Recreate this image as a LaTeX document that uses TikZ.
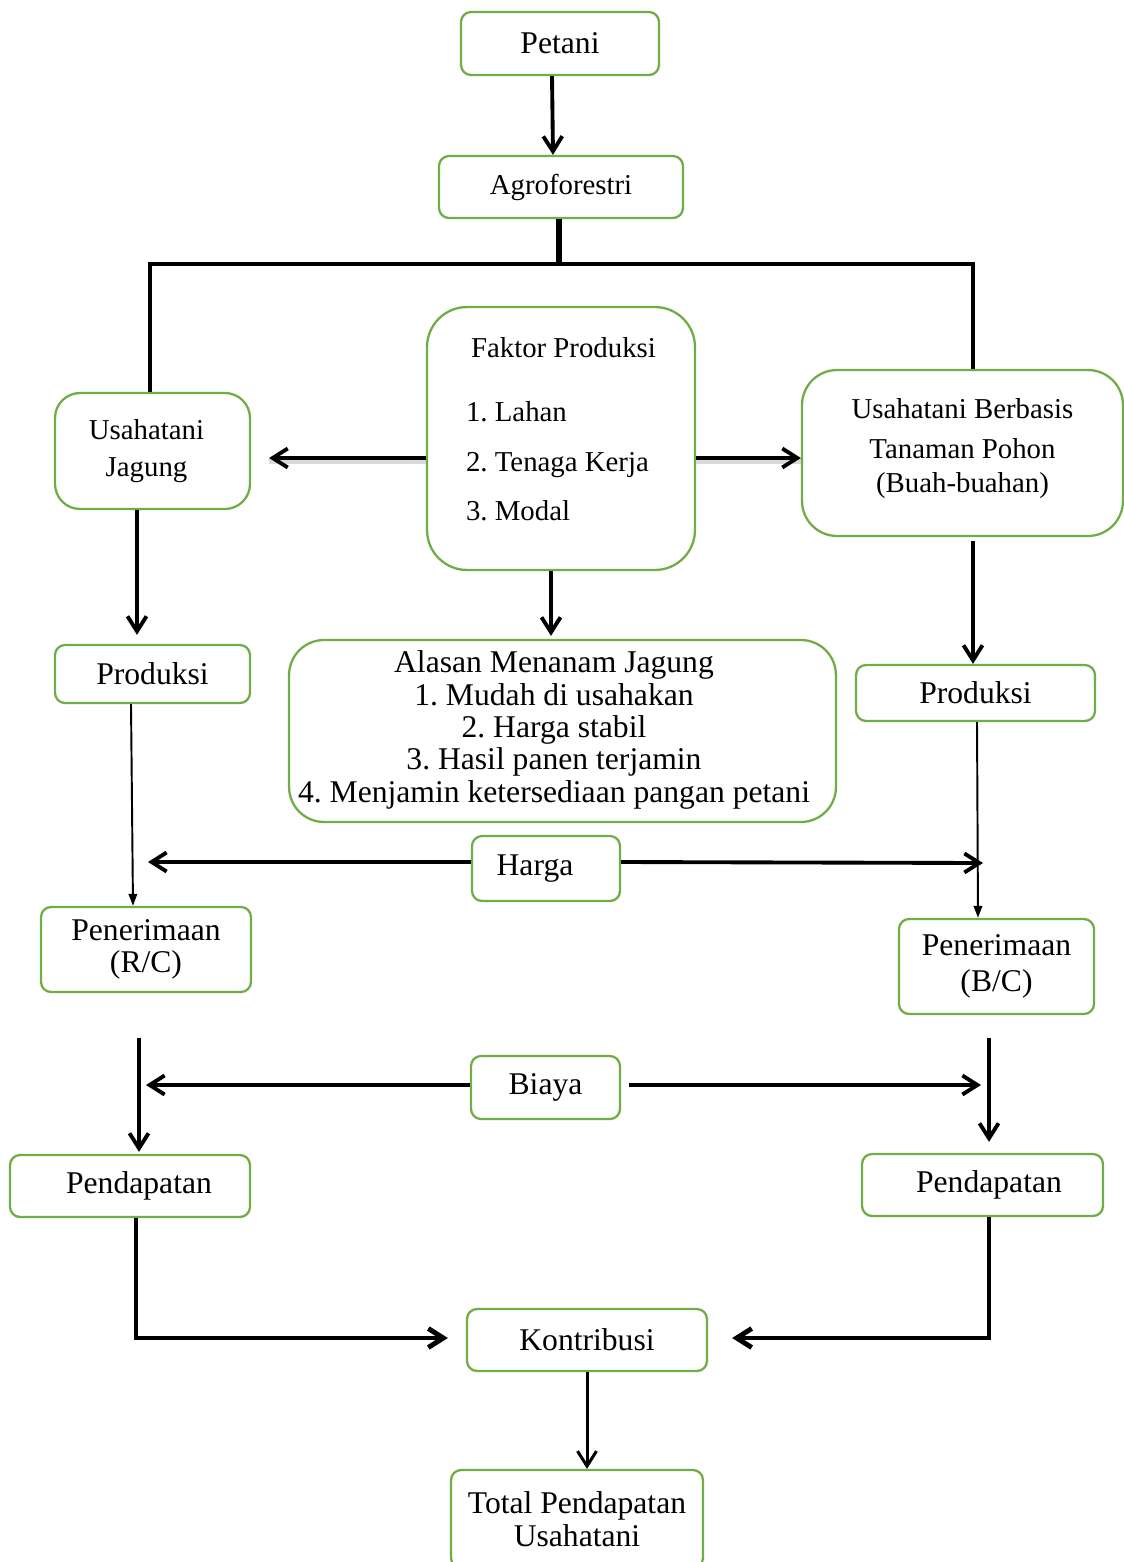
\documentclass[tikz,border=0pt]{standalone}
\usepackage{fontspec}
\setmainfont{Liberation Serif}
\usetikzlibrary{arrows.meta}
\frenchspacing

\definecolor{boxgreen}{HTML}{70AD47}
\newcommand{\smallfs}{\fontsize{16.4}{19.3}\selectfont}
\newcommand{\largefs}{\fontsize{18}{18.4}\selectfont}

\tikzset{
  box/.style={draw=boxgreen, line width=1.3pt, rounded corners=0.2cm, align=center, inner sep=0pt, font=\largefs},
  arr/.style={line width=2.2pt, -{Straight Barb[length=0.3cm, width=0.38cm]}},
  thinarr/.style={line width=1.1pt, -{Triangle[length=0.24cm, width=0.17cm]}},
  bar/.style={line width=3.2pt},
  shadowed/.style={preaction={draw=black!15, line width=3.6pt, -, transform canvas={yshift=-0.06cm}}},
}

\begin{document}
\begin{tikzpicture}[x=0.02cm, y=-0.02cm]
  \useasboundingbox (0,0) rectangle (1124,1562);

  % boxes
  \node [box, minimum width=3.96cm, minimum height=1.26cm] (petani) at (560,43.5) {Petani};
  \node [box, font=\smallfs, minimum width=4.88cm, minimum height=1.24cm] (agro) at (561,187) {Agroforestri};
  \node [box, font=\smallfs, align=left, rounded corners=0.8cm, minimum width=5.36cm, minimum height=5.26cm,
    text height=3.5cm, text depth=0.2cm] (faktor) at (561,438.5)
    {\hspace*{0.1cm}Faktor Produksi\\[17pt]1. Lahan\\[9pt]2. Tenaga Kerja\\[9pt]3. Modal};
  \node [box, font=\smallfs, rounded corners=0.5cm, minimum width=3.9cm, minimum height=2.32cm] (jagung) at (152.5,451)
    {Usahatani\hspace*{0.24cm}\\[2.2pt]Jagung\hspace*{0.24cm}};
  \node [box, font=\smallfs, rounded corners=0.7cm, minimum width=6.42cm, minimum height=3.32cm,
    text height=1.76cm, text depth=0.2cm] (berbasis) at (962.5,453)
    {Usahatani Berbasis\\[3.4pt]Tanaman Pohon\\(Buah-buahan)};
  \node [box, minimum width=3.9cm, minimum height=1.16cm] (prodL) at (152.5,674) {Produksi};
  \node [box, rounded corners=0.7cm, minimum width=10.94cm, minimum height=3.64cm] (alasan) at (562.5,731)
    {\begin{tabular}{@{}c@{\hspace{0.34cm}}}
      Alasan Menanam Jagung\\1. Mudah di usahakan\\2. Harga stabil\\3. Hasil panen terjamin\\4. Menjamin ketersediaan pangan petani
    \end{tabular}};
  \node [box, minimum width=4.78cm, minimum height=1.12cm] (prodR) at (975.5,693) {Produksi};
  \node [box, minimum width=2.96cm, minimum height=1.3cm] (harga) at (546,868.5) {Harga\hspace*{0.44cm}};
  \node [box, minimum width=4.2cm, minimum height=1.7cm] (penL) at (146,949.5) {Penerimaan\\(R/C)};
  \node [box, minimum width=3.9cm, minimum height=1.9cm] (penR) at (996.5,966.5) {Penerimaan\\[2pt](B/C)};
  \node [box, minimum width=2.98cm, minimum height=1.26cm] (biaya) at (545.5,1087.5) {Biaya};
  \node [box, minimum width=4.8cm, minimum height=1.24cm] (pendL) at (130,1186) {\hspace*{0.36cm}Pendapatan};
  \node [box, minimum width=4.82cm, minimum height=1.24cm] (pendR) at (982.5,1185) {\hspace*{0.26cm}Pendapatan};
  \node [box, minimum width=4.8cm, minimum height=1.24cm] (kontri) at (587,1340) {Kontribusi};
  \node [box, minimum width=5.04cm, minimum height=1.96cm] (total) at (577,1519) {Total Pendapatan\\Usahatani};

  \coordinate (split) at (559,264);
  \coordinate (hargaL) at (148,862);
  \coordinate (hargaR) at (983,863);
  \coordinate (biayaL) at (146,1085);
  \coordinate (biayaR) at (981,1085);

  % connectors
  \draw [arr] ([xshift=-0.16cm]petani.south) -- ([xshift=-0.16cm]agro.north);
  \draw [bar] ([xshift=-0.04cm]agro.south) -- (split);
  \draw [line width=2pt] ([xshift=-0.05cm]jagung.north) |- (split) -| ([xshift=0.21cm]berbasis.north);
  \draw [arr, shadowed, shorten >=0.36cm] ([yshift=-0.39cm]faktor.west) -- ([yshift=-0.39cm]faktor.west -| jagung.east);
  \draw [arr, shadowed] ([yshift=-0.39cm]faktor.east) -- ([yshift=-0.39cm]faktor.east -| berbasis.west);
  \draw [arr, shorten >=0.18cm] ([xshift=-0.31cm]jagung.south) -- ([xshift=-0.31cm]jagung.south |- prodL.north);
  \draw [arr, shorten >=0.06cm] ([xshift=-0.2cm]faktor.south) -- ([xshift=-0.2cm]faktor.south |- alasan.north);
  \draw [arr, shorten <=0.08cm] ([xshift=0.21cm]berbasis.south) -- ([xshift=0.21cm]berbasis.south |- prodR.north);
  \draw [thinarr] ([xshift=-0.43cm]prodL.south) -- ([xshift=-0.26cm]penL.north);
  \draw [thinarr] ([xshift=0.03cm]prodR.south) -- ([xshift=-0.37cm]penR.north);
  \draw [arr] ([yshift=0.13cm]harga.west) -- (hargaL);
  \draw [arr] ([yshift=0.13cm]harga.east) -- (hargaR);
  \draw [arr, shorten <=0.9cm, shorten >=0.04cm] ([xshift=-0.14cm]penL.south) -- ([xshift=-0.14cm]penL.south |- pendL.north);
  \draw [arr, shorten <=0.46cm, shorten >=0.22cm] ([xshift=-0.15cm]penR.south) -- ([xshift=-0.15cm]penR.south |- pendR.north);
  \draw [arr] ([yshift=0.05cm]biaya.west) -- (biayaL);
  \draw [arr, shorten <=0.16cm] ([yshift=0.05cm]biaya.east) -- (biayaR);
  \draw [arr, line width=2.8pt, shorten >=0.36cm] ([xshift=0.12cm]pendL.south) |- ([yshift=0.04cm]kontri.west);
  \draw [arr, line width=2.8pt, shorten >=0.48cm] ([xshift=0.13cm]pendR.south) |- ([yshift=0.04cm]kontri.east);
  \draw [arr, line width=1.7pt] (kontri.south) -- (kontri.south |- total.north);
\end{tikzpicture}
\end{document}
